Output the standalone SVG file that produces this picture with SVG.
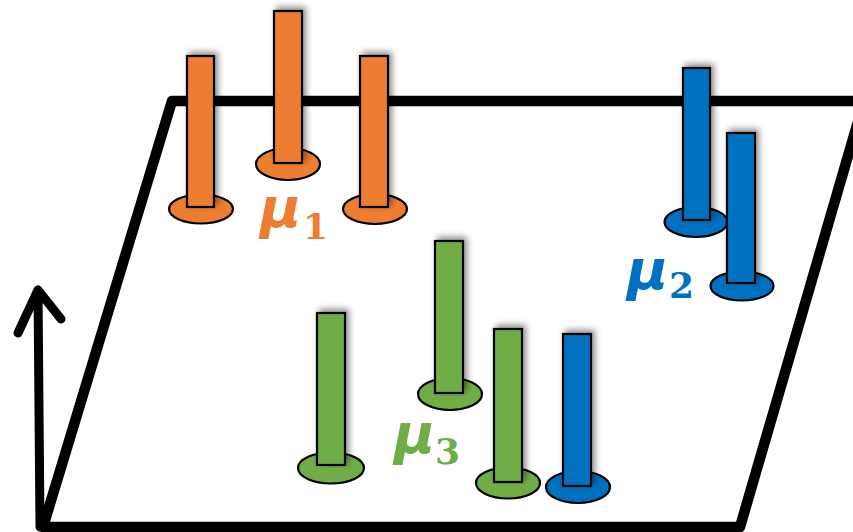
<svg xmlns="http://www.w3.org/2000/svg" width="853" height="532" viewBox="0 0 853 532">
  <defs>
    <filter id="soft-shadow" x="-60%" y="-20%" width="220%" height="140%">
      <feDropShadow dx="3" dy="-3" stdDeviation="3" flood-color="#000" flood-opacity="0.45"/>
    </filter>
    <style>
      .edge { fill: none; stroke: #000; stroke-width: 10.5; stroke-linejoin: round; stroke-linecap: round; }
      .axis { fill: none; stroke: #000; stroke-width: 9; stroke-linejoin: round; stroke-linecap: round; }
      .bar { stroke: #000; stroke-width: 2.2; filter: url(#soft-shadow); }
      .base { stroke: #000; stroke-width: 2.2; }
      .orange { fill: #ED7D31; }
      .blue { fill: #0070C0; }
      .green { fill: #70AD47; }
      .mu { font-family: "DejaVu Sans", "Liberation Sans", sans-serif; font-weight: bold; font-style: italic; font-size: 56px; }
      .sub { font-family: "DejaVu Serif", "Liberation Serif", serif; font-weight: bold; font-style: normal; font-size: 36px; }
    </style>
  </defs>
  <rect width="853" height="532" fill="#fff"/>

  <!-- ground plane and vertical axis -->
  <g id="connectors">
    <path class="edge" d="M 860 101 L 172 101 L 43 527 L 740 527 L 864 101"/>
    <path class="axis" d="M 40 527 L 38 290 M 18 333 L 38 290 L 61 319"/>
  </g>

  <!-- cluster 1 -->
  <g id="pin-o1">
    <ellipse class="base orange" cx="201" cy="209" rx="32" ry="14.5"/>
    <rect class="bar orange" x="187" y="56" width="27" height="151"/>
  </g>
  <g id="pin-o2">
    <ellipse class="base orange" cx="288" cy="164" rx="32" ry="16"/>
    <rect class="bar orange" x="274" y="11" width="28" height="152"/>
  </g>
  <g id="pin-o3">
    <ellipse class="base orange" cx="375" cy="209" rx="32" ry="15"/>
    <rect class="bar orange" x="360" y="56" width="28" height="151"/>
  </g>
  <g id="label-mu1">
    <text class="mu orange" x="260" y="227">μ</text>
    <text class="sub orange" x="303" y="239">1</text>
  </g>

  <!-- cluster 2 -->
  <g id="pin-b1">
    <ellipse class="base blue" cx="696" cy="222" rx="31.5" ry="15"/>
    <rect class="bar blue" x="683" y="68" width="27" height="152"/>
  </g>
  <g id="pin-b2">
    <ellipse class="base blue" cx="742" cy="286" rx="31.5" ry="14.5"/>
    <rect class="bar blue" x="727" y="133" width="28" height="150"/>
  </g>
  <g id="label-mu2">
    <text class="mu blue" x="627" y="289">μ</text>
    <text class="sub blue" x="669" y="298">2</text>
  </g>

  <!-- cluster 3 -->
  <g id="pin-g1">
    <ellipse class="base green" cx="331" cy="468" rx="33" ry="15.5"/>
    <rect class="bar green" x="317" y="313" width="28" height="152"/>
  </g>
  <g id="pin-g2">
    <ellipse class="base green" cx="450" cy="394" rx="32" ry="16"/>
    <rect class="bar green" x="435" y="241" width="28" height="152"/>
  </g>
  <g id="pin-g3">
    <ellipse class="base green" cx="508" cy="483" rx="32" ry="15.5"/>
    <rect class="bar green" x="494" y="329" width="28" height="153"/>
  </g>
  <g id="pin-b3">
    <ellipse class="base blue" cx="578" cy="487" rx="32" ry="16"/>
    <rect class="bar blue" x="563" y="334" width="28" height="152"/>
  </g>
  <g id="label-mu3">
    <text class="mu green" x="394" y="453">μ</text>
    <text class="sub green" x="435" y="464">3</text>
  </g>
</svg>
